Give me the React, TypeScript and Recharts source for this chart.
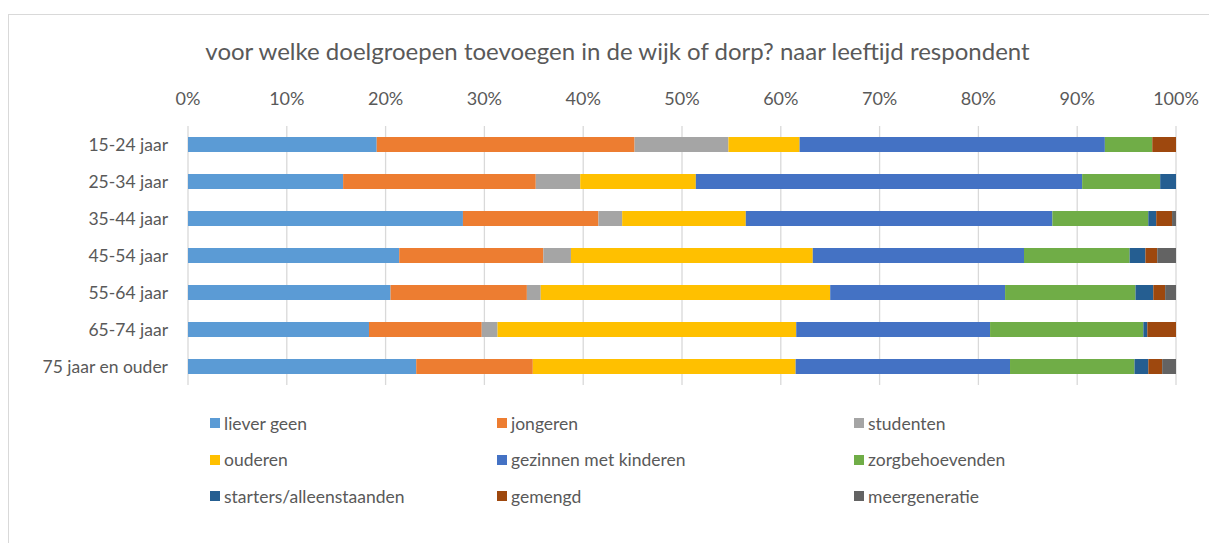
import { BarChart, Bar, XAxis, YAxis, CartesianGrid } from "recharts";

const categories = [
  "15-24 jaar",
  "25-34 jaar",
  "35-44 jaar",
  "45-54 jaar",
  "55-64 jaar",
  "65-74 jaar",
  "75 jaar en ouder",
];

// percentages per leeftijdsgroep
const lieverGeen = [19.1, 15.7, 27.8, 21.4, 20.5, 18.3, 23.1];
const jongeren = [26.1, 19.5, 13.7, 14.6, 13.8, 11.4, 11.8];
const studenten = [9.5, 4.5, 2.4, 2.8, 1.4, 1.6, 0];
const ouderen = [7.2, 11.7, 12.5, 24.5, 29.3, 30.2, 26.6];
const gezinnen = [30.9, 39.1, 31.0, 21.4, 17.7, 19.6, 21.7];
const zorgbehoevenden = [4.8, 7.9, 9.7, 10.7, 13.2, 15.5, 12.6];
const starters = [0, 1.6, 0.8, 1.6, 1.8, 0.4, 1.4];
const gemengd = [2.4, 0, 1.6, 1.2, 1.2, 2.9, 1.4];
const meergeneratie = [0, 0, 0.4, 1.9, 1.1, 0, 1.4];

const xTicks = [0, 0.1, 0.2, 0.3, 0.4, 0.5, 0.6, 0.7, 0.8, 0.9, 1];

const series = [
  { key: "liever geen", values: lieverGeen, color: "#5B9BD5" },
  { key: "jongeren", values: jongeren, color: "#ED7D31" },
  { key: "studenten", values: studenten, color: "#A5A5A5" },
  { key: "ouderen", values: ouderen, color: "#FFC000" },
  { key: "gezinnen met kinderen", values: gezinnen, color: "#4472C4" },
  { key: "zorgbehoevenden", values: zorgbehoevenden, color: "#70AD47" },
  { key: "starters/alleenstaanden", values: starters, color: "#255E91" },
  { key: "gemengd", values: gemengd, color: "#9E480E" },
  { key: "meergeneratie", values: meergeneratie, color: "#636363" },
];

const data = categories.map((name, i) => {
  const row: Record<string, string | number> = { name };
  series.forEach((s) => (row[s.key] = s.values[i]));
  return row;
});

const FONT = "Lato, 'Open Sans', sans-serif";
const TEXT = "#595959";
const colWidths = [287, 357, 300];

const ChartLegend = () => (
  <div
    style={{
      position: "absolute",
      left: 202,
      top: 391,
      display: "grid",
      gridTemplateColumns: colWidths.map((w) => w + "px").join(" "),
    }}
  >
    {series.map((s) => (
      <div key={s.key} style={{ display: "flex", alignItems: "center", height: 36.5, fontFamily: FONT, fontSize: 17.5, color: TEXT }}>
        <span style={{ display: "inline-block", width: 10, height: 10, background: s.color, marginRight: 4 }} />
        {s.key}
      </div>
    ))}
  </div>
);

export default function App() {
  return (
    <div style={{ paddingTop: 6 }}>
      <style>{"body{overflow:hidden}"}</style>
      <div style={{ position: "relative", width: 1209, height: 529 }}>
        <div style={{ position: "absolute", inset: 0, borderTop: "1px solid #d9d9d9", borderLeft: "1px solid #d9d9d9", pointerEvents: "none" }} />
        <div
          style={{
            position: "absolute",
            left: 0,
            width: 1219,
            top: 22,
            textAlign: "center",
            fontFamily: FONT,
            fontSize: 24,
            color: TEXT,
            lineHeight: "normal",
          }}
        >
          voor welke doelgroepen toevoegen in de wijk of dorp? naar leeftijd respondent
        </div>
        <BarChart
          width={1209}
          height={529}
          data={data}
          layout="vertical"
          stackOffset="expand"
          barSize={15}
          margin={{ top: 82, right: 41, bottom: 158, left: 10 }}
          style={{ position: "absolute", left: 0, top: 0 }}
        >
          <CartesianGrid horizontal={false} stroke="#d9d9d9" strokeWidth={1.3} />
          <XAxis
            type="number"
            orientation="top"
            domain={[0, 1]}
            ticks={xTicks}
            tickFormatter={(v: number) => Math.round(v * 100) + "%"}
            axisLine={false}
            tickLine={false}
            tickSize={0}
            tickMargin={21}
            height={30}
            tick={{ fill: TEXT, fontSize: 18, fontFamily: FONT }}
            interval={0}
          />
          <YAxis
            type="category"
            dataKey="name"
            axisLine={false}
            tickLine={false}
            tickSize={0}
            tickMargin={20}
            width={170}
            tick={{ fill: TEXT, fontSize: 17.5, fontFamily: FONT }}
            interval={0}
          />
          {series.map((s) => (
            <Bar key={s.key} dataKey={s.key} stackId="a" fill={s.color} isAnimationActive={false} />
          ))}
        </BarChart>
        <ChartLegend />
      </div>
    </div>
  );
}
